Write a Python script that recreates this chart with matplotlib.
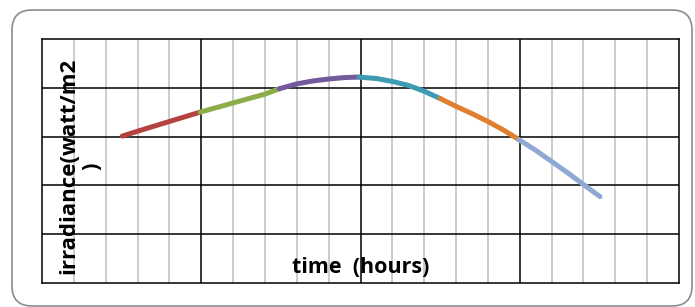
import numpy as np
import matplotlib.pyplot as plt
from matplotlib.patches import FancyBboxPatch
from matplotlib.transforms import IdentityTransform

# each coloured piece of the irradiance curve (x in minor grid units, y in major units)
red_x = [2.52, 3.0, 4.0, 4.96]
red_y = [3.01, 3.11, 3.31, 3.50]
green_x = [4.96, 6.0, 7.0, 7.45]
green_y = [3.50, 3.69, 3.87, 3.98]
purple_x = [7.45, 8.0, 8.5, 9.0, 9.5, 9.95]
purple_y = [3.98, 4.08, 4.14, 4.18, 4.21, 4.22]
teal_x = [9.95, 10.5, 11.0, 11.5, 12.0, 12.5]
teal_y = [4.22, 4.19, 4.13, 4.05, 3.93, 3.78]
orange_x = [12.5, 13.0, 13.5, 14.0, 14.5, 14.97]
orange_y = [3.78, 3.62, 3.47, 3.31, 3.13, 2.94]
lblue_x = [14.97, 15.5, 16.0, 16.5, 17.0, 17.52]
lblue_y = [2.94, 2.72, 2.49, 2.26, 2.02, 1.77]

segments = [
    (red_x, red_y, '#b4433f'),
    (green_x, green_y, '#8cad4a'),
    (purple_x, purple_y, '#735a9c'),
    (teal_x, teal_y, '#3d9bb4'),
    (orange_x, orange_y, '#e0802f'),
    (lblue_x, lblue_y, '#8fa9d4'),
]

plt.rcParams['font.family'] = ['Open Sans', 'DejaVu Sans']

fig = plt.figure(figsize=(6.95, 3.07), dpi=100)
ax = fig.add_axes([42 / 695, 1 - 283 / 307, 637 / 695, 244 / 307])

# outer rounded frame (pixel coords)
frame = FancyBboxPatch((12, 1), 680, 296, boxstyle='round,pad=0,rounding_size=20',
                       transform=IdentityTransform(), facecolor='none',
                       edgecolor='#8c8c8c', linewidth=1.2)
fig.patches.append(frame)

ax.set_xlim(0, 20)
ax.set_ylim(0, 5)

# grid: gray minor verticals, black majors
for x in range(1, 20):
    if x % 5:
        ax.axvline(x, color='#bfbfbf', lw=1.1, zorder=1)
    else:
        ax.axvline(x, color='black', lw=1.1, zorder=1)
for y in range(1, 5):
    ax.axhline(y, color='black', lw=1.1, zorder=1)

for xs, ys, c in segments:
    ax.plot(xs, ys, color=c, lw=3.6, solid_capstyle='round',
            solid_joinstyle='round', zorder=3)

for s in ax.spines.values():
    s.set_color('black')
    s.set_linewidth(1.1)
ax.set_xticks([])
ax.set_yticks([])

ax.text(0.5, 0.065, 'time  (hours)', transform=ax.transAxes, ha='center', va='center',
        fontsize=15.5, fontweight='bold', zorder=4)
ax.text(0.06, 0.48, 'irradiance(watt/m2\n)', transform=ax.transAxes, rotation=90,
        ha='center', va='center', ma='center', fontsize=16, fontweight='bold',
        linespacing=1.15, zorder=4)

plt.savefig('out.png', dpi=100)
